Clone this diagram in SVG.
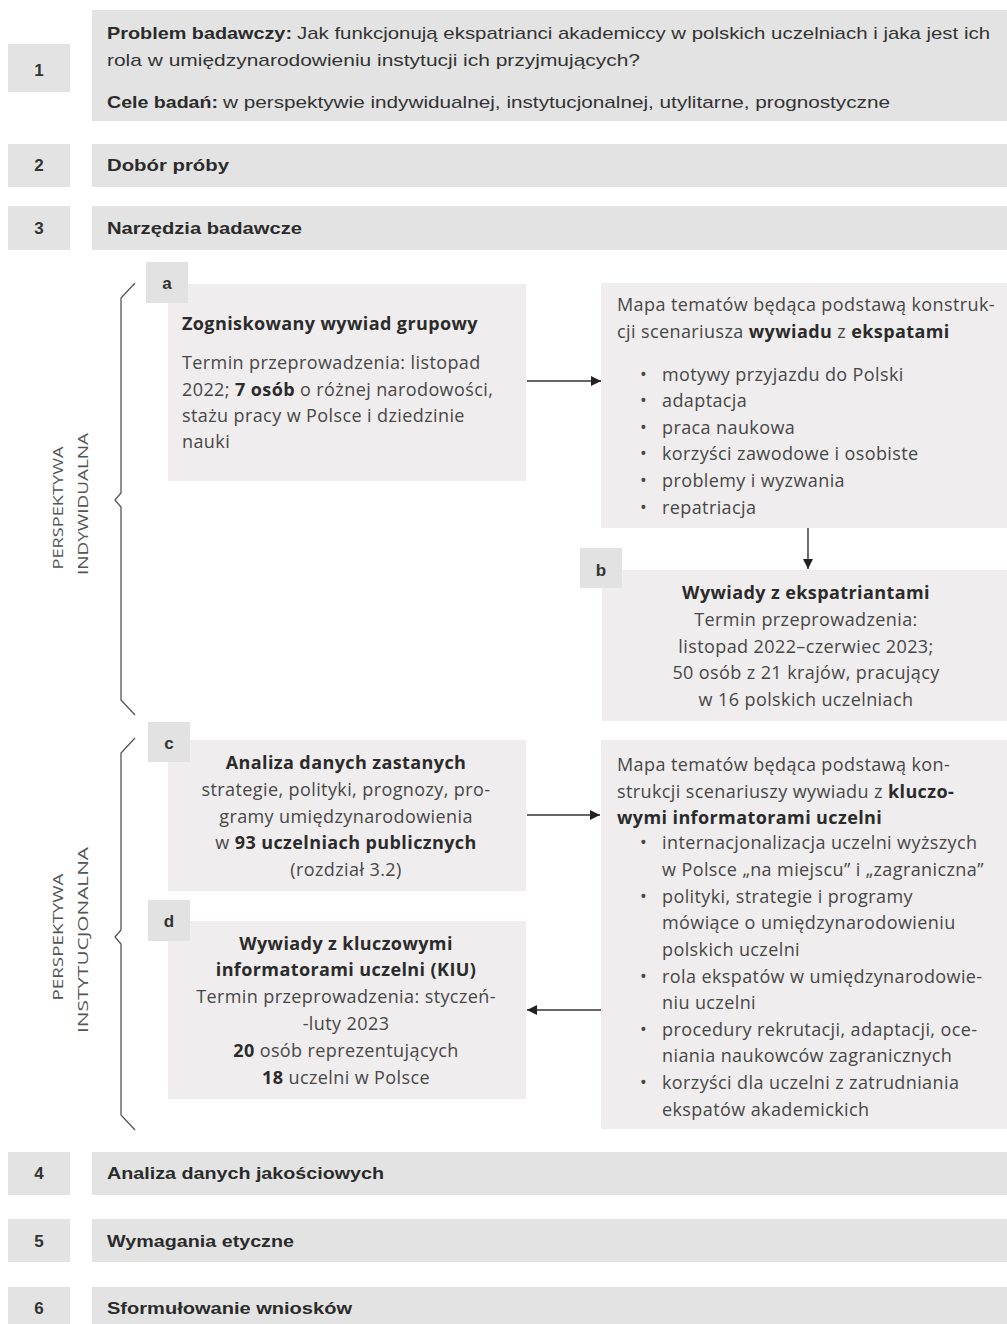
<svg xmlns="http://www.w3.org/2000/svg" width="1007" height="1324" viewBox="0 0 1007 1324">
<defs>
<style>
.row{fill:#e3e3e3}
.num{fill:#e3e3e3}
.box{fill:#efeded}
.lab{fill:#e2e2e2}
.rt{font-family:"Liberation Sans",Arial,sans-serif;font-size:17px;fill:#333}
.rb{font-family:"Liberation Sans",Arial,sans-serif;font-size:17px;font-weight:bold;fill:#2b2b2b}
.nt{font-family:"Liberation Sans",Arial,sans-serif;font-size:17px;font-weight:bold;fill:#333;text-anchor:middle}
.bt{font-family:"Open Sans","Liberation Sans",sans-serif;font-size:18px;letter-spacing:0.4px;fill:#474747}
.bt tspan.b,.b{font-weight:bold;fill:#2b2b2b}
.c{text-anchor:middle}
.side{font-family:"Open Sans","Liberation Sans",sans-serif;font-size:14px;fill:#555;text-anchor:middle}
.br{fill:none;stroke:#555;stroke-width:1.3}
.ar{fill:none;stroke:#333;stroke-width:1.4}
</style>
<marker id="ah" viewBox="0 0 10 10" refX="10" refY="5" markerWidth="10" markerHeight="10" markerUnits="userSpaceOnUse" orient="auto">
<path d="M0,0 L10,5 L0,10 Z" fill="#222"/>
</marker>
</defs>
<rect width="1007" height="1324" fill="#fff"/>

<g id="row1">
<rect class="num" x="8" y="44" width="62" height="48"/>
<text class="nt" x="39" y="76">1</text>
<rect class="row" x="92" y="10" width="915" height="111"/>
<text class="rb" x="107" y="39" textLength="185" lengthAdjust="spacingAndGlyphs">Problem badawczy:</text>
<text class="rt" x="297" y="39" textLength="693" lengthAdjust="spacingAndGlyphs">Jak funkcjonują ekspatrianci akademiccy w polskich uczelniach i jaka jest ich</text>
<text class="rt" x="107" y="66" textLength="533" lengthAdjust="spacingAndGlyphs">rola w umiędzynarodowieniu instytucji ich przyjmujących?</text>
<text class="rb" x="107" y="108" textLength="111" lengthAdjust="spacingAndGlyphs">Cele badań:</text>
<text class="rt" x="223" y="108" textLength="667" lengthAdjust="spacingAndGlyphs">w perspektywie indywidualnej, instytucjonalnej, utylitarne, prognostyczne</text>
</g>

<g id="row2">
<rect class="num" x="8" y="144" width="62" height="43"/>
<text class="nt" x="39" y="171">2</text>
<rect class="row" x="92" y="144" width="915" height="43"/>
<text class="rb" x="107" y="171" textLength="122" lengthAdjust="spacingAndGlyphs">Dobór próby</text>
</g>

<g id="row3">
<rect class="num" x="8" y="206" width="62" height="44"/>
<text class="nt" x="39" y="234">3</text>
<rect class="row" x="92" y="206" width="915" height="44"/>
<text class="rb" x="107" y="234" textLength="195" lengthAdjust="spacingAndGlyphs">Narzędzia badawcze</text>
</g>

<g id="brace-indywidualna">
<path class="br" d="M135,283 L121,298 L121,493 L115,500 L121,507 L121,700 L135,715"/>
<text class="side" transform="translate(63,508) rotate(-90)" textLength="123" lengthAdjust="spacingAndGlyphs">PERSPEKTYWA</text>
<text class="side" transform="translate(88,504) rotate(-90)" textLength="142" lengthAdjust="spacingAndGlyphs">INDYWIDUALNA</text>
</g>

<g id="brace-instytucjonalna">
<path class="br" d="M135,738 L121,753 L121,930 L115,937 L121,944 L121,1115 L135,1130"/>
<text class="side" transform="translate(63,937) rotate(-90)" textLength="127" lengthAdjust="spacingAndGlyphs">PERSPEKTYWA</text>
<text class="side" transform="translate(88,940) rotate(-90)" textLength="186" lengthAdjust="spacingAndGlyphs">INSTYTUCJONALNA</text>
</g>

<g id="node-a">
<rect class="box" x="168" y="284" width="358" height="197"/>
<rect class="lab" x="146" y="262" width="42" height="41"/>
<text class="nt" x="167" y="289">a</text>
<text class="bt b" x="182" y="330">Zogniskowany wywiad grupowy</text>
<text class="bt" x="182" y="369">Termin przeprowadzenia: listopad</text>
<text class="bt" x="182" y="396">2022; <tspan class="b">7 osób</tspan> o różnej narodowości,</text>
<text class="bt" x="182" y="422">stażu pracy w Polsce i dziedzinie</text>
<text class="bt" x="182" y="448">nauki</text>
</g>

<g id="node-map1">
<rect class="box" x="601" y="283" width="406" height="245"/>
<text class="bt" x="617" y="311">Mapa tematów będąca podstawą konstruk-</text>
<text class="bt" x="617" y="338">cji scenariusza <tspan class="b">wywiadu</tspan> z <tspan class="b">ekspatami</tspan></text>
<g class="bt">
<text x="640" y="381">•</text><text x="662" y="381">motywy przyjazdu do Polski</text>
<text x="640" y="407">•</text><text x="662" y="407">adaptacja</text>
<text x="640" y="434">•</text><text x="662" y="434">praca naukowa</text>
<text x="640" y="460">•</text><text x="662" y="460">korzyści zawodowe i osobiste</text>
<text x="640" y="487">•</text><text x="662" y="487">problemy i wyzwania</text>
<text x="640" y="514">•</text><text x="662" y="514">repatriacja</text>
</g>
</g>

<g id="node-b">
<rect class="box" x="602" y="570" width="405" height="151"/>
<rect class="lab" x="580" y="548" width="42" height="40"/>
<text class="nt" x="601" y="576">b</text>
<g class="bt c">
<text class="b" x="806" y="599">Wywiady z ekspatriantami</text>
<text x="806" y="626">Termin przeprowadzenia:</text>
<text x="806" y="653">listopad 2022–czerwiec 2023;</text>
<text x="806" y="679">50 osób z 21 krajów, pracujący</text>
<text x="806" y="706">w 16 polskich uczelniach</text>
</g>
</g>

<g id="node-c">
<rect class="box" x="168" y="740" width="358" height="151"/>
<rect class="lab" x="148" y="722" width="42" height="40"/>
<text class="nt" x="169" y="749">c</text>
<g class="bt c">
<text class="b" x="346" y="769">Analiza danych zastanych</text>
<text x="346" y="796">strategie, polityki, prognozy, pro-</text>
<text x="346" y="823">gramy umiędzynarodowienia</text>
<text x="346" y="849">w <tspan class="b">93 uczelniach publicznych</tspan></text>
<text x="346" y="876">(rozdział 3.2)</text>
</g>
</g>

<g id="node-d">
<rect class="box" x="168" y="921" width="358" height="178"/>
<rect class="lab" x="148" y="900" width="42" height="41"/>
<text class="nt" x="169" y="927">d</text>
<g class="bt c">
<text class="b" x="346" y="950">Wywiady z kluczowymi</text>
<text class="b" x="346" y="976">informatorami uczelni (KIU)</text>
<text x="346" y="1003">Termin przeprowadzenia: styczeń-</text>
<text x="346" y="1030">-luty 2023</text>
<text x="346" y="1057"><tspan class="b">20</tspan> osób reprezentujących</text>
<text x="346" y="1084"><tspan class="b">18</tspan> uczelni w Polsce</text>
</g>
</g>

<g id="node-map2">
<rect class="box" x="601" y="740" width="406" height="389"/>
<g class="bt">
<text x="617" y="771">Mapa tematów będąca podstawą kon-</text>
<text x="617" y="798">strukcji scenariuszy wywiadu z <tspan class="b">kluczo-</tspan></text>
<text class="b" x="617" y="824">wymi informatorami uczelni</text>
<text x="640" y="849">•</text><text x="662" y="849">internacjonalizacja uczelni wyższych</text>
<text x="662" y="876">w Polsce „na miejscu” i „zagraniczna”</text>
<text x="640" y="903">•</text><text x="662" y="903">polityki, strategie i programy</text>
<text x="662" y="929">mówiące o umiędzynarodowieniu</text>
<text x="662" y="956">polskich uczelni</text>
<text x="640" y="983">•</text><text x="662" y="983">rola ekspatów w umiędzynarodowie-</text>
<text x="662" y="1009">niu uczelni</text>
<text x="640" y="1036">•</text><text x="662" y="1036">procedury rekrutacji, adaptacji, oce-</text>
<text x="662" y="1062">niania naukowców zagranicznych</text>
<text x="640" y="1089">•</text><text x="662" y="1089">korzyści dla uczelni z zatrudniania</text>
<text x="662" y="1116">ekspatów akademickich</text>
</g>
</g>

<g id="row4">
<rect class="num" x="8" y="1152" width="62" height="43"/>
<text class="nt" x="39" y="1179">4</text>
<rect class="row" x="92" y="1152" width="915" height="43"/>
<text class="rb" x="107" y="1179" textLength="277" lengthAdjust="spacingAndGlyphs">Analiza danych jakościowych</text>
</g>

<g id="row5">
<rect class="num" x="8" y="1219" width="62" height="43"/>
<text class="nt" x="39" y="1247">5</text>
<rect class="row" x="92" y="1219" width="915" height="43"/>
<text class="rb" x="107" y="1247" textLength="187" lengthAdjust="spacingAndGlyphs">Wymagania etyczne</text>
</g>

<g id="row6">
<rect class="num" x="8" y="1287" width="62" height="42"/>
<text class="nt" x="39" y="1314">6</text>
<rect class="row" x="92" y="1287" width="915" height="42"/>
<text class="rb" x="107" y="1314" textLength="245" lengthAdjust="spacingAndGlyphs">Sformułowanie wniosków</text>
</g>

<g id="connectors">
<line class="ar" x1="527" y1="381" x2="601" y2="381" marker-end="url(#ah)"/>
<line class="ar" x1="808" y1="528" x2="808" y2="569" marker-end="url(#ah)"/>
<line class="ar" x1="527" y1="815" x2="600" y2="815" marker-end="url(#ah)"/>
<line class="ar" x1="601" y1="1010" x2="527" y2="1010" marker-end="url(#ah)"/>
</g>
</svg>
